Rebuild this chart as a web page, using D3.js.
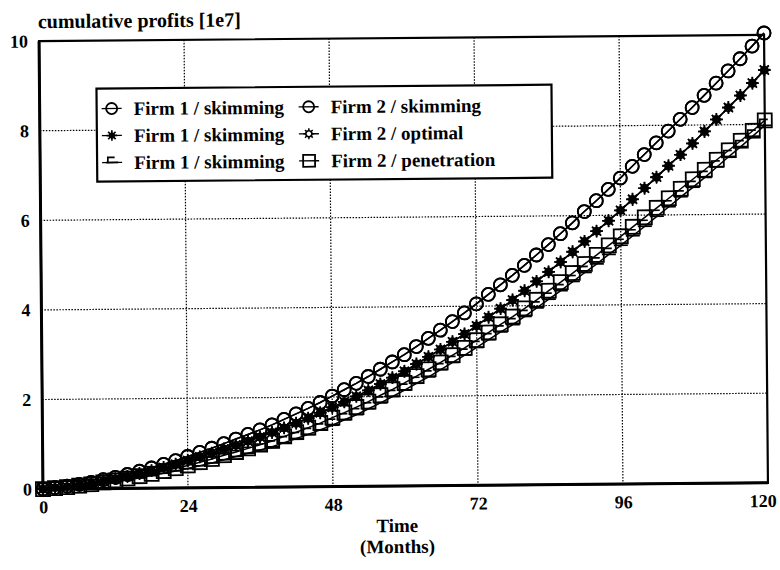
<!DOCTYPE html>
<html>
<head>
<meta charset="utf-8">
<script src="https://cdn.jsdelivr.net/npm/d3@7"></script>
<style>
  body { margin: 0; background: #fff; }
  svg { display: block; }
  text { font-family: "Liberation Serif", "Times New Roman", serif; fill: #000; }
</style>
</head>
<body>
<svg width="780" height="570"></svg>
<script>
// months on the time axis (one marker every 2 months)
const months = d3.range(0, 121, 2)
const xTicks = [0, 24, 48, 72, 96, 120]
const yTicks = [0, 2, 4, 6, 8, 10]

// cumulative profits [1e7]
const skimFirm1 = [0, 0.03, 0.06, 0.10, 0.14, 0.20, 0.25, 0.31, 0.38, 0.45, 0.53, 0.61, 0.70,
  0.79, 0.88, 0.98, 1.08, 1.18, 1.28, 1.39, 1.51, 1.63, 1.75, 1.88, 2.02, 2.16, 2.30, 2.45,
  2.61, 2.77, 2.93, 3.11, 3.29, 3.47, 3.66, 3.85, 4.05, 4.26, 4.47, 4.68, 4.90, 5.13, 5.36,
  5.60, 5.84, 6.09, 6.33, 6.58, 6.83, 7.09, 7.35, 7.61, 7.87, 8.13, 8.39, 8.66, 8.93, 9.20,
  9.47, 9.75, 10.04]
// symmetric case: firm 2 sits on top of firm 1
const skimFirm2 = [0, 0.03, 0.06, 0.10, 0.14, 0.20, 0.25, 0.31, 0.38, 0.45, 0.53, 0.61, 0.70,
  0.79, 0.88, 0.98, 1.08, 1.18, 1.28, 1.39, 1.51, 1.63, 1.75, 1.88, 2.02, 2.16, 2.30, 2.45,
  2.61, 2.77, 2.93, 3.11, 3.29, 3.47, 3.66, 3.85, 4.05, 4.26, 4.47, 4.68, 4.90, 5.13, 5.36,
  5.60, 5.84, 6.09, 6.33, 6.58, 6.83, 7.09, 7.35, 7.61, 7.87, 8.13, 8.39, 8.66, 8.93, 9.20,
  9.47, 9.75, 10.04]
const optFirm1 = [0, 0.03, 0.05, 0.09, 0.12, 0.18, 0.22, 0.27, 0.33, 0.39, 0.46, 0.53, 0.61,
  0.69, 0.77, 0.86, 0.95, 1.03, 1.12, 1.22, 1.32, 1.43, 1.53, 1.65, 1.77, 1.89, 2.01, 2.14,
  2.28, 2.42, 2.56, 2.72, 2.88, 3.04, 3.21, 3.38, 3.56, 3.75, 3.94, 4.13, 4.34, 4.54, 4.75,
  4.97, 5.20, 5.43, 5.65, 5.88, 6.11, 6.36, 6.60, 6.85, 7.10, 7.34, 7.59, 7.86, 8.12, 8.39,
  8.65, 8.93, 9.22]
const optFirm2 = [0, 0.03, 0.05, 0.09, 0.12, 0.17, 0.22, 0.27, 0.33, 0.39, 0.46, 0.53, 0.61,
  0.69, 0.77, 0.86, 0.94, 1.03, 1.12, 1.22, 1.32, 1.42, 1.53, 1.65, 1.77, 1.89, 2.01, 2.14,
  2.28, 2.42, 2.56, 2.72, 2.88, 3.04, 3.21, 3.38, 3.56, 3.75, 3.94, 4.13, 4.33, 4.54, 4.75,
  4.97, 5.19, 5.42, 5.65, 5.88, 6.11, 6.35, 6.60, 6.84, 7.09, 7.34, 7.59, 7.85, 8.12, 8.38,
  8.65, 8.92, 9.21]
const penFirm1 = [0, 0.02, 0.04, 0.06, 0.08, 0.12, 0.15, 0.19, 0.23, 0.28, 0.33, 0.38, 0.43,
  0.49, 0.55, 0.62, 0.69, 0.76, 0.83, 0.90, 0.99, 1.08, 1.17, 1.27, 1.37, 1.49, 1.60, 1.73,
  1.86, 2.00, 2.14, 2.29, 2.43, 2.59, 2.75, 2.91, 3.08, 3.25, 3.42, 3.58, 3.76, 3.95, 4.14,
  4.33, 4.53, 4.73, 4.92, 5.13, 5.33, 5.54, 5.75, 5.97, 6.18, 6.40, 6.61, 6.83, 7.06, 7.29,
  7.51, 7.74, 7.98]
const penFirm2 = [0, 0.02, 0.04, 0.07, 0.10, 0.14, 0.18, 0.22, 0.27, 0.32, 0.38, 0.44, 0.50,
  0.57, 0.64, 0.72, 0.79, 0.87, 0.95, 1.03, 1.13, 1.22, 1.32, 1.42, 1.54, 1.65, 1.77, 1.89,
  2.03, 2.16, 2.30, 2.45, 2.60, 2.75, 2.91, 3.07, 3.24, 3.41, 3.59, 3.76, 3.94, 4.13, 4.33,
  4.52, 4.72, 4.92, 5.12, 5.33, 5.53, 5.74, 5.95, 6.16, 6.37, 6.58, 6.79, 7.00, 7.22, 7.43,
  7.64, 7.86, 8.09]

// legend rows, left column then right column
const series = [
  { name: 'Firm 1 / skimming', values: skimFirm1, marker: 'circle', row: 0, col: 0 },
  { name: 'Firm 2 / skimming', values: skimFirm2, marker: 'circle', row: 0, col: 1 },
  { name: 'Firm 1 / skimming', values: optFirm1, marker: 'star', row: 1, col: 0 },
  { name: 'Firm 2 / optimal', values: optFirm2, marker: 'sun', row: 1, col: 1 },
  { name: 'Firm 1 / skimming', values: penFirm1, marker: 'flag', row: 2, col: 0 },
  { name: 'Firm 2 / penetration', values: penFirm2, marker: 'box', row: 2, col: 1 },
]

const svg = d3.select('svg')
const root = svg.append('g').attr('transform', 'rotate(-0.5 400 262)')

const pLeft = 41, pRight = 766, pTop = 38, pBottom = 486
const x = d3.scaleLinear().domain([0, 120]).range([pLeft, pRight])
const y = d3.scaleLinear().domain([0, 10]).range([pBottom, pTop])

// dotted grid
root.append('g')
  .selectAll('line')
  .data(xTicks.slice(1, -1))
  .join('line')
  .attr('x1', (d) => x(d)).attr('x2', (d) => x(d))
  .attr('y1', pTop).attr('y2', pBottom)
  .attr('stroke', '#000').attr('stroke-width', 1.2).attr('stroke-dasharray', '1.5,1.5')
root.append('g')
  .selectAll('line')
  .data(yTicks.slice(1, -1))
  .join('line')
  .attr('x1', pLeft).attr('x2', pRight)
  .attr('y1', (d) => y(d)).attr('y2', (d) => y(d))
  .attr('stroke', '#000').attr('stroke-width', 1.2).attr('stroke-dasharray', '1.5,1.5')

// axes (labels only, frame drawn below)
const xAxis = root.append('g')
  .attr('transform', `translate(0,${pBottom})`)
  .call(d3.axisBottom(x).tickValues(xTicks).tickSize(0).tickPadding(8))
const yAxis = root.append('g')
  .attr('transform', `translate(${pLeft},0)`)
  .call(d3.axisLeft(y).tickValues(yTicks).tickSize(0).tickPadding(11))
for (const ax of [xAxis, yAxis]) {
  ax.select('.domain').remove()
  ax.selectAll('text')
    .attr('font-family', '"Liberation Serif", serif')
    .attr('font-size', 18)
    .attr('font-weight', 'bold')
}
xAxis.selectAll('text').attr('dy', '0.9em')
// the last label hugs the right edge of the page
xAxis.selectAll('text').filter((d) => d === 120).attr('text-anchor', 'end').attr('dx', 8)

// frame
root.append('path')
  .attr('d', `M${pLeft},${pBottom}V${pTop}H${pRight}V${pBottom}Z`)
  .attr('fill', 'none').attr('stroke', '#000').attr('stroke-width', 2.2)
root.append('path')
  .attr('d', `M${pLeft},${pTop}V${pBottom}H${pRight}`)
  .attr('fill', 'none').attr('stroke', '#000').attr('stroke-width', 3)

// titles
root.append('text').attr('x', 40).attr('y', 25)
  .attr('font-size', 20).attr('font-weight', 'bold')
  .text('cumulative profits [1e7]')
root.append('text').attr('x', 395).attr('y', 532)
  .attr('font-size', 19).attr('font-weight', 'bold').attr('text-anchor', 'middle')
  .text('Time')
root.append('text').attr('x', 395).attr('y', 553)
  .attr('font-size', 19).attr('font-weight', 'bold').attr('text-anchor', 'middle')
  .text('(Months)')

// marker shapes
const spokes = (r) => d3.range(8).map((i) => {
  const a = (i * Math.PI) / 4
  return `M0,0L${(r * Math.cos(a)).toFixed(2)},${(r * Math.sin(a)).toFixed(2)}`
}).join('')

const drawMarker = (sel, type, s) => {
  if (type === 'circle') {
    sel.append('circle').attr('r', 6.5 * s)
      .attr('fill', 'none').attr('stroke', '#000').attr('stroke-width', 1.8)
  } else if (type === 'star') {
    sel.append('path').attr('d', spokes(6.2 * s))
      .attr('stroke', '#000').attr('stroke-width', 1.7)
    sel.append('circle').attr('r', 3.6 * s).attr('fill', '#000')
  } else if (type === 'sun') {
    sel.append('path').attr('d', spokes(6.4 * s))
      .attr('stroke', '#000').attr('stroke-width', 1.5)
    sel.append('circle').attr('r', 3.6 * s)
      .attr('fill', '#fff').attr('stroke', '#000').attr('stroke-width', 1.7)
  } else if (type === 'flag') {
    sel.append('path').attr('d', `M${-7 * s},0H${7 * s}M${-5 * s},0V${-6 * s}H${3 * s}`)
      .attr('fill', 'none').attr('stroke', '#000').attr('stroke-width', 1.7)
  } else if (type === 'box') {
    sel.append('rect')
      .attr('x', -7 * s).attr('y', -7 * s)
      .attr('width', 14 * s).attr('height', 14 * s)
      .attr('fill', 'none').attr('stroke', '#000').attr('stroke-width', 1.8)
  }
}

const line = d3.line()
  .x((d, i) => x(months[i]))
  .y((d) => y(d))

// draw bottom bundle first so the circles end up on top
const drawOrder = [4, 5, 3, 2, 0, 1]
const plot = root.append('g')
for (const k of drawOrder) {
  const s = series[k]
  const g = plot.append('g')
  g.append('path')
    .attr('d', line(s.values))
    .attr('fill', 'none').attr('stroke', '#000').attr('stroke-width', 1.5)
  g.selectAll('g.m')
    .data(s.values)
    .join('g')
    .attr('class', 'm')
    .attr('transform', (d, i) => `translate(${x(months[i])},${y(d)})`)
    .each(function () { drawMarker(d3.select(this), s.marker, 1) })
}

// legend
const lg = root.append('g')
lg.append('rect')
  .attr('x', 98).attr('y', 86).attr('width', 455).attr('height', 93)
  .attr('fill', '#fff').attr('stroke', '#000').attr('stroke-width', 2.2)
const colX = [113, 310]
const item = lg.selectAll('g.item')
  .data(series)
  .join('g')
  .attr('class', 'item')
  .attr('transform', (d) => `translate(${colX[d.col]},${106 + d.row * 27})`)
item.append('line')
  .attr('x1', -10).attr('x2', 10)
  .attr('stroke', '#000').attr('stroke-width', 1.4)
item.each(function (d) { drawMarker(d3.select(this), d.marker, 0.85) })
item.append('text')
  .attr('x', 22).attr('dy', '0.35em')
  .attr('font-size', 19)
  .attr('font-weight', 'bold')
  .text((d) => d.name)
</script>
</body>
</html>
